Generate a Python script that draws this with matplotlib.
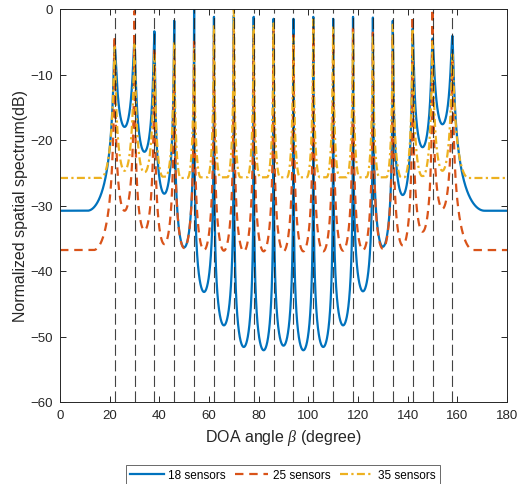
import numpy as np
import matplotlib
matplotlib.use("Agg")
import matplotlib.pyplot as plt

# ---- data ----
doa_deg = [22, 30, 38, 46, 54, 62, 70, 78, 86, 94, 102, 110, 118, 126, 134, 142, 150, 158]

s18_peaks = [-5.4, -4.9, -3.4, -1.8, 0.0, -1.2, -1.0, -1.2, -1.5, -1.5, -1.2, -1.5, -1.2, -1.3, -1.8, -3.0, -4.5, -4.1]
s18_valleys = [-18.0, -21.8, -28.2, -36.4, -43.2, -48.3, -51.6, -52.1, -51.4, -52.1, -51.6, -48.3,
               -43.1, -36.3, -28.4, -21.1, -17.6]
s18_floor = [-30.8, -30.8]
s18_edges = [11.0, 171.0]

s25_peaks = [-4.1, -0.3, -6.0, -6.0, -5.0, -4.0, -3.0, -4.0, -3.0, -4.0, -3.0, -4.0, -3.0, -3.6, -4.0, -1.1, 0.0, -8.0]
s25_valleys = [-30.8, -33.8, -35.9, -36.5, -36.8, -36.9, -37.0, -37.0, -37.0, -37.0, -37.0, -36.9,
               -36.8, -36.6, -36.1, -34.0, -30.5]
s25_floor = [-36.8, -36.8]
s25_edges = [13.5, 166.5]

s35_peaks = [-5.8, -5.4, -7.0, -5.0, -6.1, -2.4, 0.0, -2.4, -2.2, -4.4, -1.6, -2.8, -3.6, -4.1, -2.4, -3.0, -5.0, -6.9]
s35_valleys = [-24.7, -24.9, -25.6, -25.8, -25.7, -25.7, -25.7, -25.7, -25.7, -25.7, -25.7, -25.7,
               -25.7, -25.7, -25.7, -25.5, -24.7]
s35_floor = [-25.8, -25.8]
s35_edges = [16.5, 164.5]

series_labels = ["18 sensors", "25 sensors", "35 sensors"]
x_ticks = [0, 20, 40, 60, 80, 100, 120, 140, 160, 180]
y_ticks = [0, -10, -20, -30, -40, -50, -60]

# fraction of each half-gap over which a curve falls to its valley level (line shape)
s18_spread = [1.0] * 17
s25_spread = [1.0] * 17
s35_spread = [1.0, 0.95, 0.85] + [0.65] * 11 + [0.85, 0.95, 1.0]

beta = np.arange(0, 180.0001, 0.02)


def shape(x, p, P, v, V, spread=1.0):
    t = np.abs(x - p) / abs(v - p)
    t = min(1.0, t / spread)
    h = (t * (2 - t)) ** 2
    K = 10 ** ((P - V) / 10.0) - 1
    return P - 10 * np.log10(1 + K * h)


def spectrum(x, peaks_at, peaks, valleys, floors, edges, spread):
    y = np.empty_like(x)
    pk = list(peaks_at)
    for i, xv in enumerate(x):
        if xv <= edges[0]:
            y[i] = floors[0]
        elif xv >= edges[1]:
            y[i] = floors[1]
        elif xv <= pk[0]:
            y[i] = shape(xv, pk[0], peaks[0], edges[0], floors[0])
        elif xv >= pk[-1]:
            y[i] = shape(xv, pk[-1], peaks[-1], edges[1], floors[1])
        else:
            j = np.searchsorted(pk, xv) - 1
            j = min(max(j, 0), len(pk) - 2)
            mid = 0.5 * (pk[j] + pk[j + 1])
            if xv <= mid:
                y[i] = shape(xv, pk[j], peaks[j], mid, valleys[j], spread[j])
            else:
                y[i] = shape(xv, pk[j + 1], peaks[j + 1], mid, valleys[j], spread[j])
    return y


y18 = spectrum(beta, doa_deg, s18_peaks, s18_valleys, s18_floor, s18_edges, s18_spread)
y25 = spectrum(beta, doa_deg, s25_peaks, s25_valleys, s25_floor, s25_edges, s25_spread)
y35 = spectrum(beta, doa_deg, s35_peaks, s35_valleys, s35_floor, s35_edges, s35_spread)

plt.rcParams['font.family'] = ['Liberation Sans', 'DejaVu Sans']
plt.rcParams['mathtext.fontset'] = 'custom'
plt.rcParams['mathtext.it'] = 'Liberation Serif:italic'

fig = plt.figure(figsize=(5.22, 4.85), dpi=100)
ax = fig.add_axes([60 / 522, 1 - 403 / 485, 447 / 522, 393 / 485])

c_blue, c_orange, c_yellow = '#0072BD', '#D95319', '#EDB120'
l1, = ax.plot(beta, y18, color=c_blue, lw=1.6, label=series_labels[0])
l2, = ax.plot(beta, y25, color=c_orange, lw=1.6, ls=(0, (3.8, 2.6)), label=series_labels[1])
l3, = ax.plot(beta, y35, color=c_yellow, lw=1.6, ls=(0, (3.6, 1.5, 1.0, 1.5)), label=series_labels[2])

for d in doa_deg:
    ax.axvline(d, color='#222222', lw=0.8, ls=(0, (10, 4)), alpha=0.85, zorder=5)

ax.set_xlim(0, 180)
ax.set_ylim(-60, 0)
ax.set_xticks(x_ticks)
ax.set_yticks(y_ticks)
ax.tick_params(direction='in', length=4, width=0.7, colors='#262626', labelsize=9.5,
               top=True, right=True, pad=5)
for s in ax.spines.values():
    s.set_color('#262626')
    s.set_linewidth(0.7)

ax.set_xlabel(r'DOA angle $\beta$ (degree)', fontsize=11.5, color='#262626', labelpad=4)
ax.set_ylabel('Normalized spatial spectrum(dB)', fontsize=11.5, color='#262626', labelpad=2)

leg = fig.legend(handles=[l1, l2, l3], loc='center', bbox_to_anchor=(283 / 522, 1 - 476 / 485),
                 ncol=3, fontsize=8.5, frameon=True, fancybox=False, edgecolor='#262626',
                 handlelength=2.8, handletextpad=0.4, columnspacing=0.8, borderpad=0.35)
leg.get_frame().set_linewidth(0.6)

fig.savefig('out.png', dpi=100)
